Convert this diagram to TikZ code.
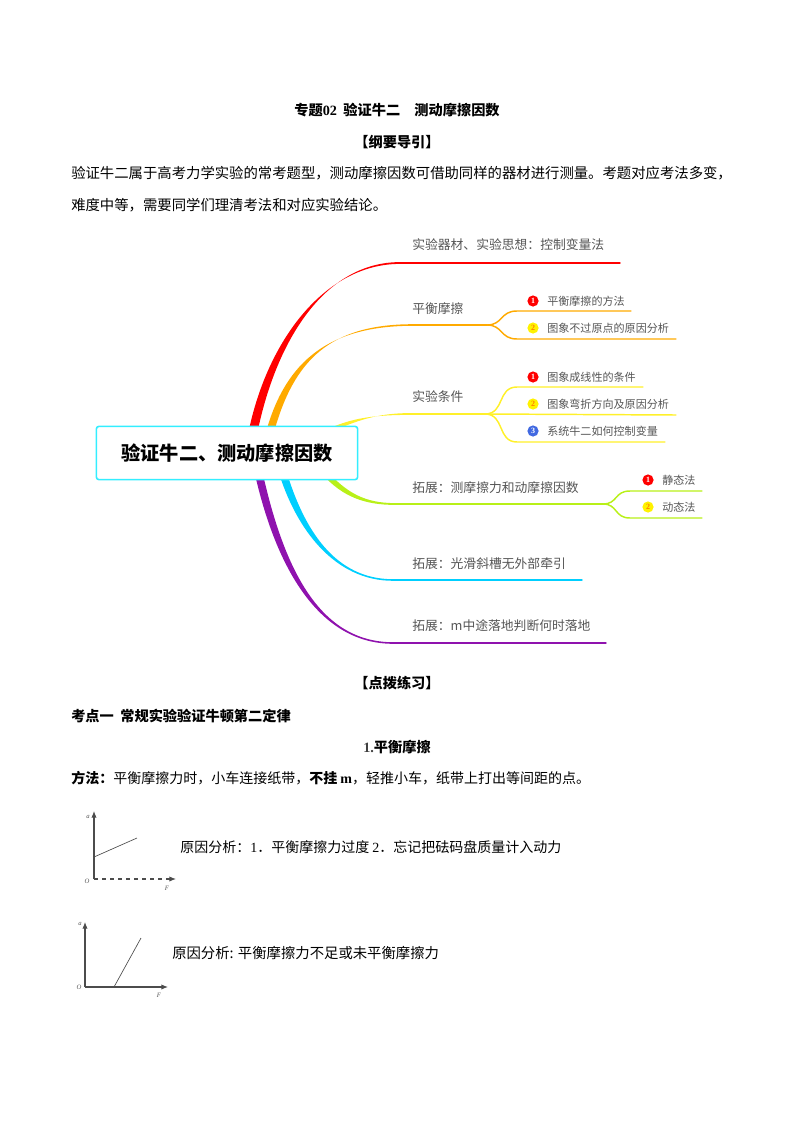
\documentclass[tikz,border=0pt]{standalone}
\usepackage{fontspec}
\setmainfont{Noto Sans CJK SC}
\newfontfamily\latinf{Liberation Serif}
\usetikzlibrary{arrows.meta,calc,backgrounds}
\definecolor{limbred}{HTML}{FF0000}
\definecolor{limborange}{HTML}{FFAA00}
\definecolor{limbyellow}{HTML}{FFF02A}
\definecolor{limbgreen}{HTML}{B8F018}
\definecolor{limbcyan}{HTML}{00CFFF}
\definecolor{limbpurple}{HTML}{8F12AE}
\definecolor{rootcyan}{HTML}{33EEFF}
\definecolor{mapgray}{HTML}{555555}
\definecolor{badgeblue}{HTML}{4169E1}
\newcommand{\limb}[7]{\fill[#1] ($(#2)+(#3)$) .. controls ($(#4)+(#3)$) and ($(#5)+(0,-#7)$) .. ($(#6)+(0,-#7)$) -- ($(#6)+(0,#7)$) .. controls ($(#5)+(0,#7)$) and ($(#4)-(#3)$) .. ($(#2)-(#3)$) -- cycle;}
\begin{document}
\begin{tikzpicture}[
  x=0.75pt, y=-0.75pt,
  body/.style={anchor=west, inner sep=0pt, text=black, font=\fontsize{10.77}{12}\selectfont},
  note/.style={anchor=west, inner sep=0pt, text=black, font=\fontsize{10.5}{12}\selectfont},
  head/.style={inner sep=0pt, text=black, font=\fontsize{10.65}{12}\selectfont\bfseries},
  main/.style={anchor=west, inner sep=0pt, text=mapgray, font=\fontsize{9.6}{11}\selectfont},
  leaf/.style={anchor=west, inner sep=0pt, text=mapgray, font=\fontsize{8.3}{10}\selectfont},
  badge/.style={circle, fill=#1, inner sep=0pt, minimum size=8.4pt, font=\latinf\fontsize{6}{6}\selectfont\bfseries},
  tick/.style={inner sep=0pt, text=mapgray, font=\latinf\itshape\fontsize{5}{5}\selectfont},
  axis/.style={draw=black!70, line width=0.8pt, -{Latex[length=5pt,width=4pt]}},
  twig/.style={line width=1.1pt, line cap=round}
]
  \useasboundingbox (0,0) rectangle (794,1123);

  \node[head] (title) at (397,110) {专题{\latinf 02}\ \ 验证牛二　测动摩擦因数};
  \node[head] (guide) at (397,142) {【纲要导引】};
  \node[body] (para1) at (71,173) {验证牛二属于高考力学实验的常考题型，测动摩擦因数可借助同样的器材进行测量。考题对应考法多变，};
  \node[body] (para2) at (71,205) {难度中等，需要同学们理清考法和对应实验结论。};

  \node[draw=rootcyan, line width=1.2pt, fill=white, rounded corners=2pt, minimum width=196pt,
    minimum height=40pt, inner sep=0pt, font=\fontsize{14.4}{16}\selectfont\bfseries] (root) at (227,453) {验证牛二、测动摩擦因数};

  \coordinate (s1) at (253,432); \coordinate (a1) at (272,340); \coordinate (b1) at (325,263); \coordinate (m1) at (400,263); \coordinate (e1) at (620,263);
  \coordinate (s2) at (270,432); \coordinate (a2) at (290,360); \coordinate (b2) at (330,325); \coordinate (m2) at (413,325); \coordinate (e2) at (487,325);
  \coordinate (s3) at (335,428); \coordinate (a3) at (355,420); \coordinate (b3) at (375,414); \coordinate (m3) at (410,414); \coordinate (e3) at (485,414);
  \coordinate (s4) at (325,473); \coordinate (a4) at (345,495); \coordinate (b4) at (365,504); \coordinate (m4) at (395,504); \coordinate (e4) at (603,504);
  \coordinate (s5) at (282,470); \coordinate (a5) at (300,530); \coordinate (b5) at (335,580); \coordinate (m5) at (393,580); \coordinate (e5) at (582,580);
  \coordinate (s6) at (258,470); \coordinate (a6) at (280,570); \coordinate (b6) at (320,643); \coordinate (m6) at (393,643); \coordinate (e6) at (606,643);

  \begin{scope}[on background layer]
    \limb{limbred}{s1}{4.5,0}{a1}{b1}{m1}{0.9}
    \limb{limborange}{s2}{4,0}{a2}{b2}{m2}{0.8}
    \limb{limbyellow}{s3}{0,2}{a3}{b3}{m3}{0.9}
    \limb{limbgreen}{s4}{2,-2}{a4}{b4}{m4}{0.9}
    \limb{limbcyan}{s5}{4,0}{a5}{b5}{m5}{0.8}
    \limb{limbpurple}{s6}{4,0}{a6}{b6}{m6}{0.8}
  \end{scope}
  \draw[limbred, twig] (m1) -- (e1);
  \draw[limborange, twig] (m2) -- (e2);
  \draw[limbyellow, twig] (m3) -- (e3);
  \draw[limbgreen, twig] (m4) -- (e4);
  \draw[limbcyan, twig] (m5) -- (e5);
  \draw[limbpurple, twig] (m6) -- (e6);

  \node[main] (tools) at (412,245) {实验器材、实验思想：控制变量法};
  \node[main] (fric) at (412,309) {平衡摩擦};
  \node[main] (cond) at (412,397) {实验条件};
  \node[main] (meas) at (412,488) {拓展：测摩擦力和动摩擦因数};
  \node[main] (slope) at (412,564) {拓展：光滑斜槽无外部牵引};
  \node[main] (land) at (412,626) {拓展：m中途落地判断何时落地};

  \coordinate (f1e) at (631,311);
  \coordinate (f2e) at (676,339);
  \coordinate (c1e) at (643,387);
  \coordinate (c2e) at (676,415);
  \coordinate (c3e) at (665,442);
  \coordinate (g1e) at (702,491);
  \coordinate (g2e) at (702,518);
  \draw[limborange, twig] (e2) .. controls (503,325) and (500,311) .. (517,311) -- (f1e);
  \draw[limborange, twig] (e2) .. controls (503,325) and (500,339) .. (517,339) -- (f2e);
  \draw[limbyellow, twig] (e3) .. controls (505,414) and (497,387) .. (517,387) -- (c1e);
  \draw[limbyellow, twig] (e3) -- (c2e);
  \draw[limbyellow, twig] (e3) .. controls (505,414) and (497,442) .. (517,442) -- (c3e);
  \draw[limbgreen, twig] (e4) .. controls (618,504) and (614,491) .. (630,491) -- (g1e);
  \draw[limbgreen, twig] (e4) .. controls (618,504) and (614,518) .. (630,518) -- (g2e);

  \node[badge=red, text=white] (bf1) at (533,301) {1};
  \node[badge=yellow, text=orange] (bf2) at (533,328) {2};
  \node[badge=red, text=white] (bc1) at (533,377) {1};
  \node[badge=yellow, text=orange] (bc2) at (533,404) {2};
  \node[badge=badgeblue, text=white] (bc3) at (533,431) {3};
  \node[badge=red, text=white] (bg1) at (648,480) {1};
  \node[badge=yellow, text=orange] (bg2) at (648,507) {2};

  \node[leaf] (lf1) at (547,301) {平衡摩擦的方法};
  \node[leaf] (lf2) at (547,328) {图象不过原点的原因分析};
  \node[leaf] (lc1) at (547,377) {图象成线性的条件};
  \node[leaf] (lc2) at (547,404) {图象弯折方向及原因分析};
  \node[leaf] (lc3) at (547,431) {系统牛二如何控制变量};
  \node[leaf] (lg1) at (662,480) {静态法};
  \node[leaf] (lg2) at (662,507) {动态法};

  \node[head] (drill) at (397,683) {【点拨练习】};
  \node[head, anchor=west] (point) at (71,716) {考点一\ \ 常规实验验证牛顿第二定律};
  \node[head] (sec) at (397,747) {{\latinf\color{black!75}1.}平衡摩擦};
  \node[note] (way) at (71,778) {\textbf{方法：}平衡摩擦力时，小车连接纸带，\textbf{不挂 {\latinf m}}，轻推小车，纸带上打出等间距的点。};
  \node[note] (why1) at (180,847) {原因分析：{\latinf 1}．平衡摩擦力过度 {\latinf 2}．忘记把砝码盘质量计入动力};
  \node[body] (why2) at (172,953) {原因分析: 平衡摩擦力不足或未平衡摩擦力};

  \coordinate (o1) at (94,879);
  \coordinate (y1) at (94,811);
  \coordinate (x1) at (176,879);
  \coordinate (p1) at (94,857);
  \coordinate (q1) at (137,838);
  \draw[axis] (o1) -- (y1);
  \draw[axis, dashed] (o1) -- (x1);
  \draw[black!70, line width=0.5pt] (p1) -- (q1);
  \node[tick] (a1t) at (88,817) {a};
  \node[tick] (o1t) at (87,881) {O};
  \node[tick] (f1t) at (167,888) {F};

  \coordinate (o2) at (85,987);
  \coordinate (y2) at (85,922);
  \coordinate (x2) at (168,987);
  \coordinate (p2) at (114,987);
  \coordinate (q2) at (141,938);
  \draw[axis] (o2) -- (y2);
  \draw[axis] (o2) -- (x2);
  \draw[black!70, line width=0.5pt] (p2) -- (q2);
  \node[tick] (a2t) at (80,924) {a};
  \node[tick] (o2t) at (79,987) {O};
  \node[tick] (f2t) at (159,995) {F};
\end{tikzpicture}
\end{document}
